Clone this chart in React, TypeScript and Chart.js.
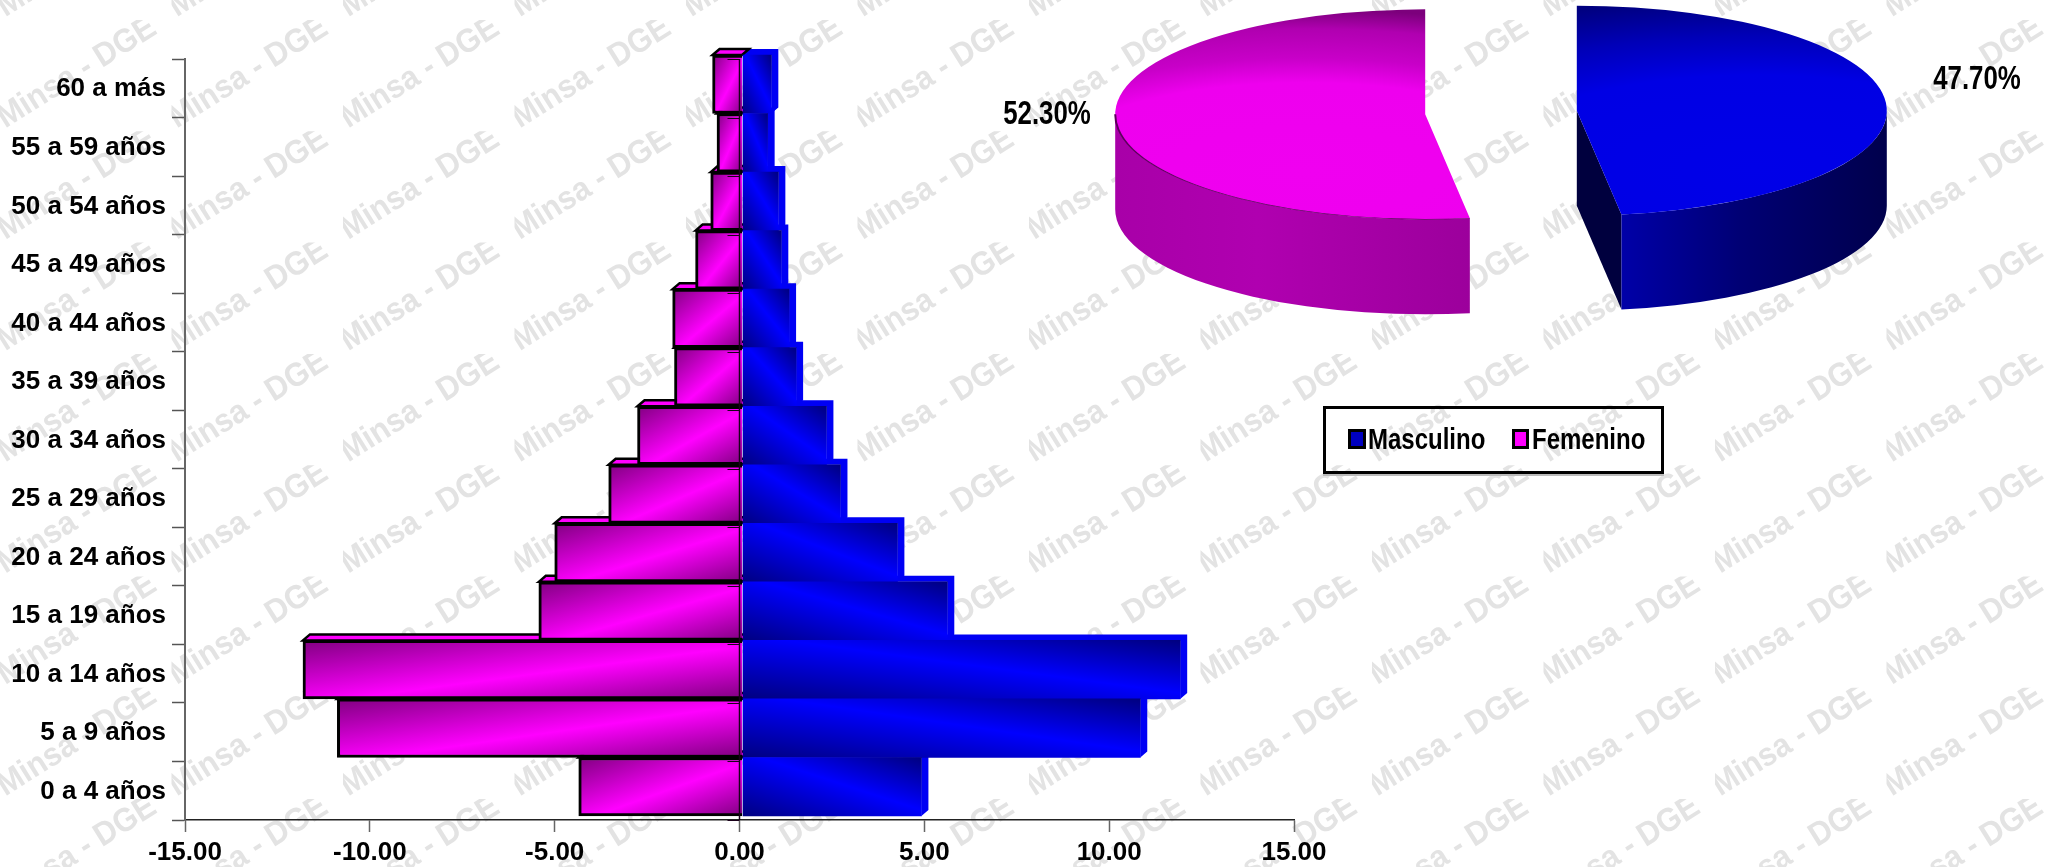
import React, { useEffect, useRef } from "react";
import { Chart, registerables } from "chart.js";

Chart.register(...registerables);

const ageGroups = [
  "60 a más", "55 a 59 años", "50 a 54 años", "45 a 49 años", "40 a 44 años",
  "35 a 39 años", "30 a 34 años", "25 a 29 años", "20 a 24 años", "15 a 19 años",
  "10 a 14 años", "5 a 9 años", "0 a 4 años",
];
const masculino = [0.78, 0.68, 0.97, 1.05, 1.26, 1.45, 2.27, 2.65, 4.19, 5.54, 11.84, 10.76, 4.84];
const femenino = [-0.81, -0.69, -0.86, -1.27, -1.89, -1.84, -2.84, -3.62, -5.08, -5.51, -11.89, -10.96, -4.43];
const sexLabels = ["Masculino", "Femenino"];
const sexShares = [47.7, 52.3];
const shareLabels = ["47.70%", "52.30%"];

const LABEL_FONT = '"Liberation Sans", Arial, sans-serif';

function diagGradient(ctx: any, x0: number, y0: number, x1: number, y1: number, dark: string, bright: string) {
  const w = x1 - x0;
  const h = y1 - y0;
  const l2 = w * w + h * h || 1;
  const k = (2 * w * h) / l2;
  const g = ctx.createLinearGradient(x0, y0, x0 + h * k, y0 + w * k);
  g.addColorStop(0, dark);
  g.addColorStop(0.55, bright);
  g.addColorStop(1, dark);
  return g;
}

function barFill(female: boolean) {
  return (c: any) => {
    const chart = c.chart;
    const solid = female ? "#ff00ff" : "#0000ff";
    if (!chart.chartArea || c.dataIndex === undefined) return solid;
    const { x, y } = chart.scales;
    const band = y.height / ageGroups.length;
    const cy = y.getPixelForValue(c.dataIndex);
    const base = x.getPixelForValue(0);
    const end = x.getPixelForValue(c.dataset.data[c.dataIndex]);
    const top = cy - band / 2;
    const bot = cy + band / 2;
    return female
      ? diagGradient(chart.ctx, end, top, base, bot, "#800080", "#ff00ff")
      : diagGradient(chart.ctx, base, bot, end, top, "#000080", "#0000ff");
  };
}

const watermarkPlugin = {
  id: "watermark",
  beforeDraw(chart: any) {
    const ctx = chart.ctx;
    const tileW = 171.5;
    const tileH = 111.3;
    ctx.save();
    ctx.font = `bold 33px ${LABEL_FONT}`;
    ctx.fillStyle = "#e3e3e3";
    ctx.textAlign = "center";
    ctx.textBaseline = "middle";
    ctx.filter = "blur(0.6px)";
    for (let row = -1; row < 8; row++) {
      for (let col = 0; col < 12; col++) {
        const x = col * tileW;
        const y = 20 + row * tileH;
        ctx.save();
        ctx.beginPath();
        ctx.rect(x, y, tileW, tileH);
        ctx.clip();
        ctx.translate(x + 77, y + 53);
        ctx.rotate((-32 * Math.PI) / 180);
        ctx.scale(0.93, 1);
        ctx.fillText("Minsa - DGE", 0, 0);
        ctx.restore();
      }
    }
    ctx.restore();
  },
};

const DX = 3;
const DY = -4;
const DEPTH_X = 7;
const DEPTH_Y = 6;

const barDepthPlugin = {
  id: "barDepth",
  beforeDatasetsDraw(chart: any) {
    const ctx = chart.ctx;
    ctx.save();
    ctx.translate(DX, DY);
    const male = chart.getDatasetMeta(0).data;
    const female = chart.getDatasetMeta(1).data;
    for (let i = ageGroups.length - 1; i >= 0; i--) {
      const m = male[i];
      const top = m.y - m.height / 2;
      const bot = m.y + m.height / 2;
      ctx.fillStyle = "#0000f4";
      ctx.beginPath();
      ctx.moveTo(m.base, top);
      ctx.lineTo(m.base + DEPTH_X, top - DEPTH_Y);
      ctx.lineTo(m.x + DEPTH_X, top - DEPTH_Y);
      ctx.lineTo(m.x + DEPTH_X, bot - DEPTH_Y);
      ctx.lineTo(m.x, bot);
      ctx.lineTo(m.x, top);
      ctx.closePath();
      ctx.fill();
      const f = female[i];
      ctx.fillStyle = "#ff00ff";
      ctx.strokeStyle = "#000000";
      ctx.lineWidth = 2.5;
      ctx.beginPath();
      ctx.moveTo(f.x, top);
      ctx.lineTo(f.x + DEPTH_X, top - DEPTH_Y);
      ctx.lineTo(f.base + DEPTH_X, top - DEPTH_Y);
      ctx.lineTo(f.base, top);
      ctx.closePath();
      ctx.fill();
      ctx.stroke();
    }
  },
  afterDatasetsDraw(chart: any) {
    const ctx = chart.ctx;
    ctx.restore();
    const { x, y } = chart.scales;
    const zero = x.getPixelForValue(0);
    ctx.save();
    ctx.strokeStyle = "#1a001a";
    ctx.lineWidth = 1.5;
    ctx.beginPath();
    ctx.moveTo(zero, y.top);
    ctx.lineTo(zero, y.bottom);
    ctx.stroke();
    ctx.lineWidth = 1;
    ctx.beginPath();
    const band = y.height / ageGroups.length;
    for (let i = 0; i <= ageGroups.length; i++) {
      const py = Math.round(y.top + i * band) + 0.5;
      ctx.moveTo(zero - 12, py);
      ctx.lineTo(zero, py);
    }
    ctx.stroke();
    ctx.restore();
  },
};

// ---- pie projection ----
const PIE_RADIUS = 310;
const PIE_OFFSET = 304; // chart.js moves an arc by offset / 4
const PIE_K = 105 / 310;
const PIE_DEPTH = 95 / PIE_K;
const PIE_LEFT = 942;
const PIE_SCREEN_X = 1501 - PIE_LEFT;
const PIE_SCREEN_Y = 112.5;

function pieCentre(chart: any) {
  const a = chart.chartArea;
  return { x: (a.left + a.right) / 2, y: (a.top + a.bottom) / 2 };
}
function toChart(chart: any, sx: number, sy: number) {
  const c = pieCentre(chart);
  return { x: sx - PIE_LEFT - PIE_SCREEN_X + c.x, y: c.y + (sy - PIE_SCREEN_Y) / PIE_K };
}
function pieFill(c: any) {
  const chart = c.chart;
  const blue = c.dataIndex === 0;
  if (!chart.chartArea || c.dataIndex === undefined) return blue ? "#0000e8" : "#ee00ee";
  const p = blue ? toChart(chart, 1680, 170) : toChart(chart, 1380, 170);
  const r = blue ? 500 : 480;
  const g = chart.ctx.createRadialGradient(p.x, p.y, 0, p.x, p.y, r);
  if (blue) {
    g.addColorStop(0, "#0000e8");
    g.addColorStop(0.55, "#0000e4");
    g.addColorStop(0.78, "#0000b8");
    g.addColorStop(1, "#000080");
  } else {
    g.addColorStop(0, "#f000f0");
    g.addColorStop(0.55, "#ee00ee");
    g.addColorStop(0.7, "#c800c8");
    g.addColorStop(0.88, "#b000b0");
    g.addColorStop(1, "#7c007c");
  }
  return g;
}

const pieDepthPlugin = {
  id: "pieDepth",
  beforeDatasetsDraw(chart: any) {
    const ctx = chart.ctx;
    const c = pieCentre(chart);
    const arcs = chart.getDatasetMeta(0).data;
    ctx.save();
    ctx.translate(PIE_SCREEN_X, PIE_SCREEN_Y);
    ctx.scale(1, PIE_K);
    ctx.translate(-c.x, -c.y);
    arcs.forEach((arc: any, i: number) => {
      const start = arc.$start ?? arc.startAngle;
      const end = arc.$end ?? arc.endAngle;
      arc.$start = start;
      arc.$end = end;
      const circ = end - start;
      const mid = (start + end) / 2;
      const shift = PIE_OFFSET / 4;
      const radial = shift * (1 - Math.sin(Math.min(Math.PI, circ)));
      // an offset arc is drawn wider and trimmed in angle by chart.js: undo both
      arc.outerRadius = PIE_RADIUS - radial;
      const trim = radial / (Math.PI * PIE_RADIUS * 2);
      arc.startAngle = start - trim;
      arc.endAngle = end + trim;
      const cx = arc.x + Math.cos(mid) * shift;
      const cy = arc.y + Math.sin(mid) * shift;
      const from = Math.max(start, 0);
      const to = Math.min(end, Math.PI);
      const sideFill = ctx.createLinearGradient(cx + PIE_RADIUS * Math.cos(to), 0, cx + PIE_RADIUS * Math.cos(from), 0);
      if (i === 0) {
        sideFill.addColorStop(0, "#0000a8");
        sideFill.addColorStop(0.45, "#000074");
        sideFill.addColorStop(1, "#00004c");
        const ex = cx + PIE_RADIUS * Math.cos(end);
        const ey = cy + PIE_RADIUS * Math.sin(end);
        ctx.fillStyle = "#00003e";
        ctx.beginPath();
        ctx.moveTo(cx, cy);
        ctx.lineTo(ex, ey);
        ctx.lineTo(ex, ey + PIE_DEPTH);
        ctx.lineTo(cx, cy + PIE_DEPTH);
        ctx.closePath();
        ctx.fill();
      } else {
        sideFill.addColorStop(0, "#a800a8");
        sideFill.addColorStop(0.4, "#b000b0");
        sideFill.addColorStop(1, "#9c009c");
      }
      ctx.fillStyle = sideFill;
      ctx.beginPath();
      ctx.arc(cx, cy, PIE_RADIUS, from, to);
      ctx.arc(cx, cy + PIE_DEPTH, PIE_RADIUS, to, from, true);
      ctx.closePath();
      ctx.fill();
    });
  },
  afterDatasetsDraw(chart: any) {
    const ctx = chart.ctx;
    const arc = chart.getDatasetMeta(0).data[1];
    const mid = (arc.$start + arc.$end) / 2;
    const shift = PIE_OFFSET / 4;
    ctx.strokeStyle = "#5c005c";
    ctx.lineWidth = 2;
    ctx.beginPath();
    ctx.arc(arc.x + Math.cos(mid) * shift, arc.y + Math.sin(mid) * shift, PIE_RADIUS, arc.$start, Math.PI);
    ctx.stroke();
    ctx.restore();
    ctx.font = `bold 34px ${LABEL_FONT}`;
    ctx.fillStyle = "#000000";
    ctx.textAlign = "center";
    ctx.textBaseline = "middle";
    const put = (t: string, sx: number, sy: number) => {
      ctx.save();
      ctx.translate(sx - PIE_LEFT, sy);
      ctx.scale(0.76, 1);
      ctx.fillText(t, 0, 0);
      ctx.restore();
    };
    put(shareLabels[0], 1977, 80);
    put(shareLabels[1], 1047, 115);
  },
};

const swatch = (left: number, top: number, w: number, h: number, color: string): React.CSSProperties => ({
  position: "absolute", left, top, width: w, height: h, background: color,
  border: "3px solid #000", boxSizing: "border-box",
});
const legendText = (left: number): React.CSSProperties => ({
  position: "absolute", left, top: 11, font: `bold 30px ${LABEL_FONT}`, color: "#000", lineHeight: "38px",
  whiteSpace: "nowrap", transform: "scaleX(0.8)", transformOrigin: "left center",
});

export default function App() {
  const barRef = useRef<HTMLCanvasElement>(null);
  const pieRef = useRef<HTMLCanvasElement>(null);

  useEffect(() => {
    const bar = new Chart(barRef.current as HTMLCanvasElement, {
      type: "bar",
      data: {
        labels: ageGroups,
        datasets: [
          { label: sexLabels[0], data: masculino, backgroundColor: barFill(false), borderWidth: 0, clip: false as any },
          {
            label: sexLabels[1], data: femenino, backgroundColor: barFill(true), borderColor: "#000000",
            borderWidth: { left: 3, top: 3, bottom: 3, right: 0 }, borderSkipped: false, clip: false as any,
          },
        ],
      },
      options: {
        indexAxis: "y",
        animation: false,
        responsive: false,
        devicePixelRatio: 1,
        barPercentage: 1,
        categoryPercentage: 1,
        layout: { padding: { top: 59, right: 751, left: 0, bottom: 0 } },
        plugins: { legend: { display: false }, tooltip: { enabled: false } },
        scales: {
          x: {
            stacked: true,
            min: -15,
            max: 15,
            afterFit: (s: any) => { s.height = 47; },
            border: { color: "#222222", width: 1.5 },
            grid: { drawOnChartArea: false, tickLength: 12, tickColor: "#666666", tickWidth: 1.5 },
            ticks: {
              stepSize: 5, autoSkip: false, maxRotation: 0, padding: 5, color: "#000000",
              font: { family: LABEL_FONT, size: 26, weight: "bold" },
              callback: (v: any) => Number(v).toFixed(2),
            },
          },
          y: {
            stacked: true,
            afterFit: (s: any) => { s.width = 185; },
            border: { color: "#666666", width: 2 },
            grid: { drawOnChartArea: false, tickLength: 13, tickColor: "#555555", tickWidth: 1.5 },
            ticks: {
              autoSkip: false, padding: 6, color: "#000000", labelOffset: 1,
              font: { family: LABEL_FONT, size: 26, weight: "bold" },
            },
          },
        },
      },
      plugins: [watermarkPlugin, barDepthPlugin],
    } as any);

    const pie = new Chart(pieRef.current as HTMLCanvasElement, {
      type: "pie",
      data: {
        labels: sexLabels,
        datasets: [{ data: sexShares, backgroundColor: pieFill, borderWidth: 0, offset: PIE_OFFSET, clip: false as any }],
      },
      options: {
        animation: false,
        responsive: false,
        devicePixelRatio: 1,
        radius: PIE_RADIUS,
        plugins: { legend: { display: false }, tooltip: { enabled: false } },
      },
      plugins: [pieDepthPlugin],
    } as any);

    return () => {
      bar.destroy();
      pie.destroy();
    };
  }, []);

  return (
    <div style={{ position: "fixed", left: 0, top: 0, width: 2045, height: 867, background: "#fff", overflow: "hidden" }}>
      <canvas ref={barRef} width={2045} height={867} style={{ position: "absolute", left: 0, top: 0 }} />
      <canvas ref={pieRef} width={2045 - PIE_LEFT} height={867} style={{ position: "absolute", left: PIE_LEFT, top: 0 }} />
      <div
        style={{
          position: "absolute", left: 1323, top: 406, width: 341, height: 68, boxSizing: "border-box",
          border: "3px solid #000", boxShadow: "0 2px 0 #bbb",
        }}
      >
        <div style={swatch(22, 20, 18, 20, "#0000c0")} />
        <div style={legendText(42)}>{sexLabels[0]}</div>
        <div style={swatch(186, 20, 17, 20, "#ff00ff")} />
        <div style={legendText(206)}>{sexLabels[1]}</div>
      </div>
    </div>
  );
}
